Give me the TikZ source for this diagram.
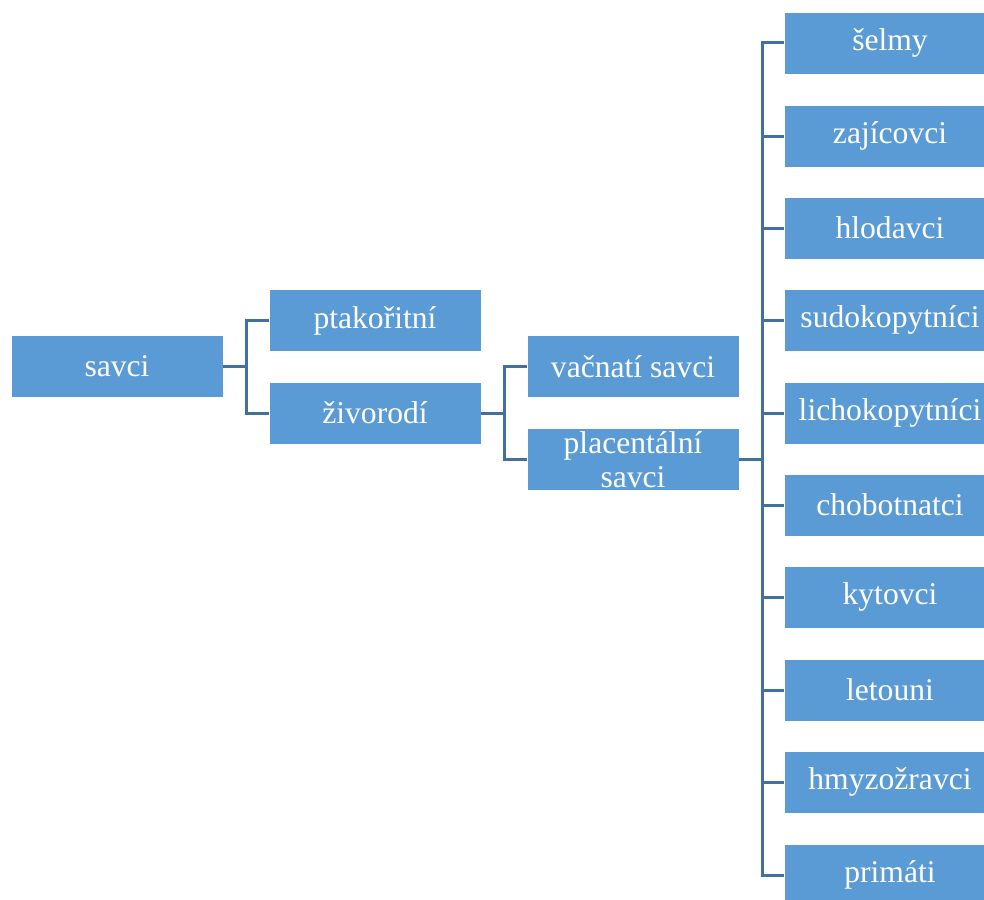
\documentclass[tikz,border=0pt]{standalone}
\usepackage{fontspec}
\setmainfont{Liberation Serif}
\definecolor{boxblue}{HTML}{5B9BD5}
\definecolor{linkblue}{HTML}{41719C}
\begin{document}
\begin{tikzpicture}[x=1pt,y=-1pt,
  taxon/.style={rectangle, fill=boxblue, draw=white, line width=0.6pt,
    minimum width=212pt, minimum height=62pt, inner sep=0pt,
    text=white, align=center,
    font=\fontsize{31.6}{34}\selectfont},
  link/.style={draw=linkblue, line width=3pt}]
\useasboundingbox (0,0) rectangle (984,899);
\clip (0,0) rectangle (984,899);

% first and second levels
\node[taxon] (savci) at (117,366.5) {savci};
\node[taxon] (ptak)  at (375,320.5) {ptakořitní};
\node[taxon] (zivo)  at (375,413)   {živorodí};
\node[taxon] (vac)   at (633,366.5) {vačnatí savci};
\node[taxon] (plac)  at (633,459.5) {placentální\\savci};

% orders of placental mammals
\node[taxon] (o1)  at (890,43)  {šelmy};
\node[taxon] (o2)  at (890,136) {zajícovci};
\node[taxon] (o3)  at (890,228) {hlodavci};
\node[taxon] (o4)  at (890,320) {sudokopytníci};
\node[taxon] (o5)  at (890,413) {lichokopytníci};
\node[taxon] (o6)  at (890,505) {chobotnatci};
\node[taxon] (o7)  at (890,597) {kytovci};
\node[taxon] (o8)  at (890,690) {letouni};
\node[taxon] (o9)  at (890,782) {hmyzožravci};
\node[taxon] (o10) at (890,875) {primáti};

% bracket connectors
\draw[link] (savci.east) -- ++(23,0) |- (ptak.west);
\draw[link] (savci.east) -- ++(23,0) |- (zivo.west);
\draw[link] (zivo.east) -- ++(23,0) |- (vac.west);
\draw[link] (zivo.east) -- ++(23,0) |- (plac.west);
\foreach \o in {o1,o2,o3,o4,o5,o6,o7,o8,o9,o10}
  \draw[link] (plac.east) -- ++(23,0) |- (\o.west);
\end{tikzpicture}
\end{document}
